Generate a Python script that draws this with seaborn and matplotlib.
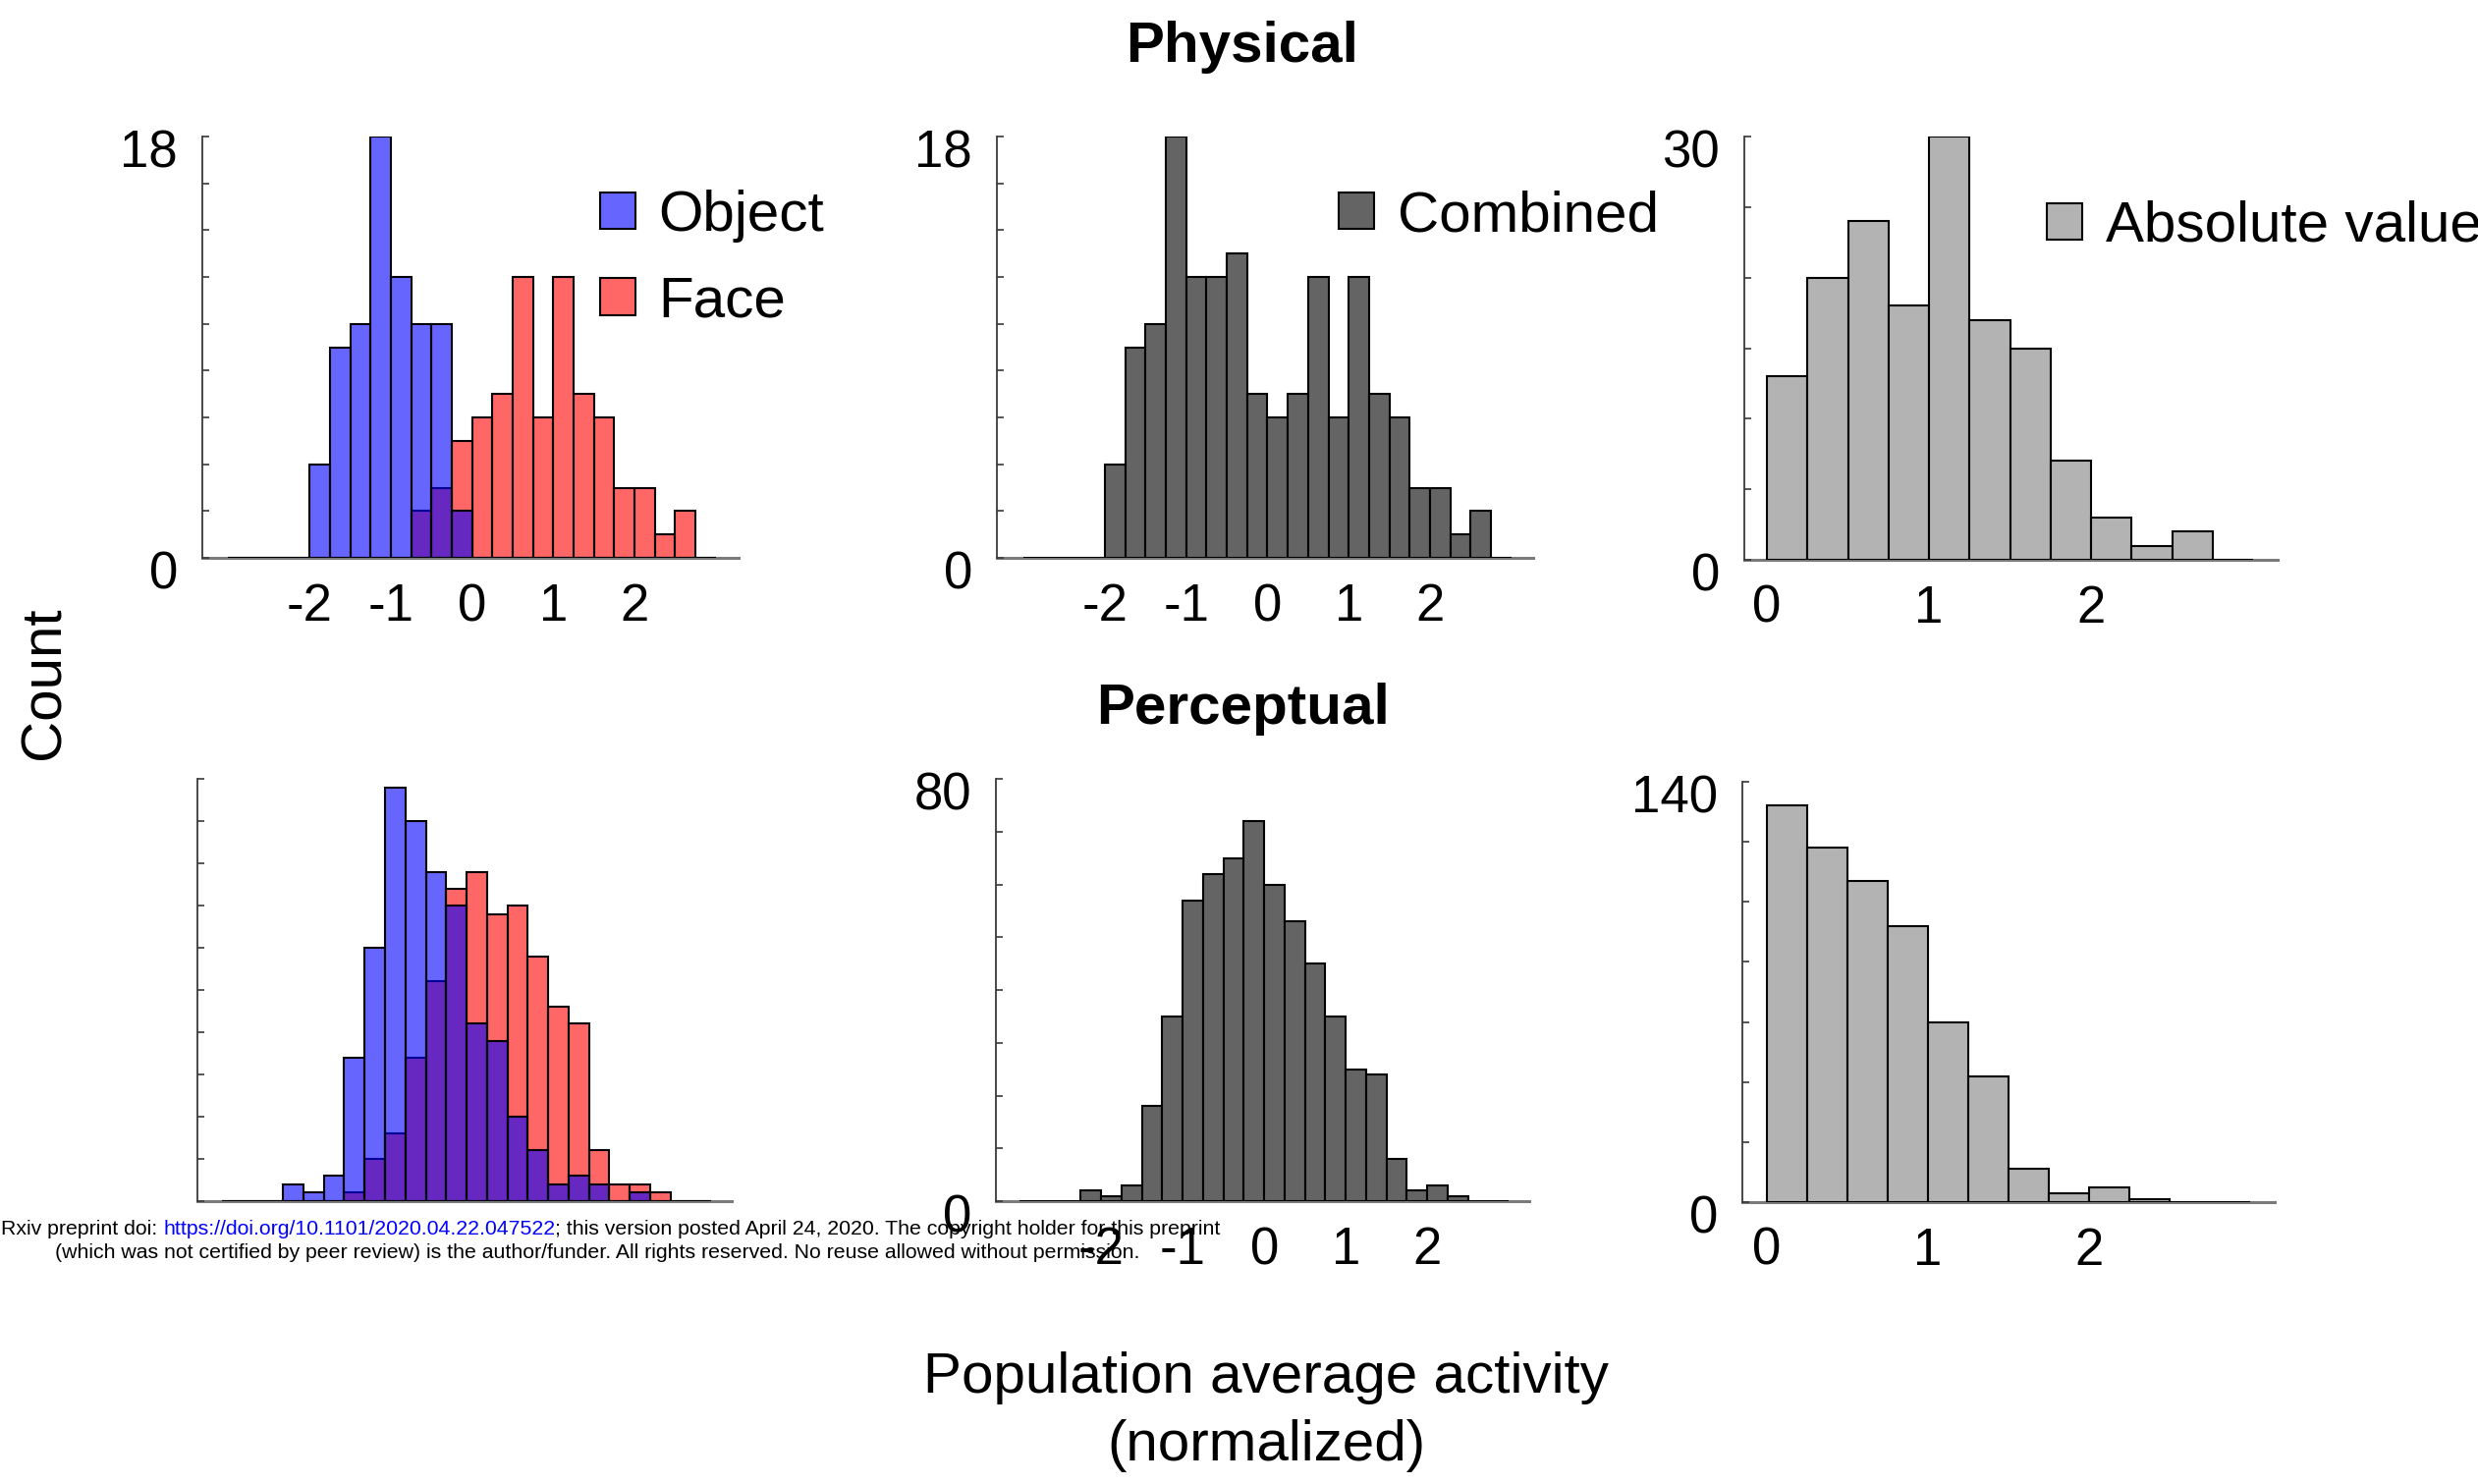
import numpy as np
import pandas as pd
import matplotlib
matplotlib.use("Agg")
import matplotlib.pyplot as plt
import seaborn as sns
from matplotlib.transforms import ScaledTranslation
from matplotlib.ticker import FixedLocator, FixedFormatter

# ---------------- data (counts per bin) ----------------
signed_bin_start = -3.0
abs_bin_start = 0.0
bin_width = 0.25

phys_object   = [0, 0, 0, 0, 4, 9, 10, 18, 12, 10, 10, 2, 0, 0, 0, 0, 0, 0, 0, 0, 0, 0, 0, 0]
phys_face     = [0, 0, 0, 0, 0, 0, 0, 0, 0, 2, 3, 5, 6, 7, 12, 6, 12, 7, 6, 3, 3, 1, 2, 0]
phys_combined = [0, 0, 0, 0, 4, 9, 10, 18, 12, 12, 13, 7, 6, 7, 12, 6, 12, 7, 6, 3, 3, 1, 2, 0]
phys_abs      = [13, 20, 24, 18, 30, 17, 15, 7, 3, 1, 2, 0]

perc_object   = [0, 0, 0, 2, 1, 3, 17, 30, 49, 45, 39, 35, 21, 19, 10, 6, 2, 3, 2, 0, 1, 0, 0, 0]
perc_face     = [0, 0, 0, 0, 0, 0, 1, 5, 8, 17, 26, 37, 39, 34, 35, 29, 23, 21, 6, 2, 2, 1, 0, 0]
perc_combined = [0, 0, 0, 2, 1, 3, 18, 35, 57, 62, 65, 72, 60, 53, 45, 35, 25, 24, 8, 2, 3, 1, 0, 0]
perc_abs      = [132, 118, 107, 92, 60, 42, 11, 3, 5, 1, 0, 0]

signed_ticks = [-2, -1, 0, 1, 2]
signed_ticklabels = ["-2", "-1", "0", "1", "2"]
abs_ticks = [0, 1, 2]
abs_ticklabels = ["0", "1", "2"]

legend_labels = ["Object", "Face", "Combined", "Absolute value"]
row_titles = ["Physical", "Perceptual"]

# ---------------- style ----------------
sns.set_style("white")
plt.rcParams['font.family'] = ['Liberation Sans', 'DejaVu Sans']
plt.rcParams['axes.unicode_minus'] = False
plt.rcParams['text.color'] = 'black'
plt.rcParams['xtick.color'] = 'black'
plt.rcParams['ytick.color'] = 'black'
plt.rcParams['xtick.labelcolor'] = 'black'
plt.rcParams['ytick.labelcolor'] = 'black'

W, H = 2523, 1511
DPI = 100
fig = plt.figure(figsize=(W / DPI, H / DPI), dpi=DPI)
fig.patch.set_facecolor("white")

C_OBJ = (0.0, 0.0, 1.0)
C_FACE = (1.0, 0.0, 0.0)
C_COMB = "#646464"
C_ABS = "#b3b3b3"
EDGE_LW = 1.5
TICK_FS = 38
LEG_FS = 42
BIG_FS = 42


def make_ax(left, right, top, bottom):
    return fig.add_axes([left / W, 1 - bottom / H, (right - left) / W, (bottom - top) / H])


def bin_frame(counts, start):
    n = len(counts)
    edges = [float(start + bin_width * i) for i in range(n + 1)]
    centers = [e + bin_width / 2 for e in edges[:-1]]
    return pd.DataFrame({"x": centers, "w": counts}), edges


def hist(ax, counts, start, color, alpha=1.0, label=None):
    df, edges = bin_frame(counts, start)
    sns.histplot(data=df, x="x", weights="w", bins=edges, ax=ax, color=color,
                 alpha=alpha, edgecolor="black", linewidth=EDGE_LW, label=label)


def style_ax(ax, xlim, ymax, ystep, ylabels, xticks, xticklabels):
    ax.set_xlim(*xlim)
    ax.set_ylim(0, ymax)
    for s in ["top", "right"]:
        ax.spines[s].set_visible(False)
    ax.spines["left"].set_color("#3a3a3a")
    ax.spines["left"].set_linewidth(1.3)
    ax.spines["bottom"].set_color("#7a7a7a")
    ax.spines["bottom"].set_linewidth(2.2)
    ax.spines["bottom"].set_zorder(0.5)
    yt = list(np.arange(0, ymax + 0.001, ystep))
    ax.yaxis.set_major_locator(FixedLocator(yt))
    labs = [""] * len(yt)
    if ylabels:
        labs[0] = "0"
        labs[-1] = str(int(ymax))
    ax.yaxis.set_major_formatter(FixedFormatter(labs))
    ax.tick_params(axis="y", direction="in", length=5, width=1.2, color="#3a3a3a",
                   labelsize=TICK_FS, labelcolor="black", pad=18, left=True)
    ax.xaxis.set_major_locator(FixedLocator(xticks))
    ax.xaxis.set_major_formatter(FixedFormatter(xticklabels))
    ax.tick_params(axis="x", length=0, labelsize=TICK_FS, labelcolor="black", pad=18,
                   bottom=True)
    for lab in ax.get_yticklabels():
        lab.set_transform(lab.get_transform() + ScaledTranslation(0, -12 / DPI, fig.dpi_scale_trans))
    ax.set_xlabel("")
    ax.set_ylabel("")
    ax.set_facecolor("white")


def add_legend(ax, handles, labels, x_px, y_px, spacing=0.58):
    leg = ax.legend(handles, labels, loc="upper left",
                    bbox_to_anchor=(x_px / W, 1 - y_px / H), bbox_transform=fig.transFigure,
                    frameon=False, fontsize=LEG_FS, handlelength=0.62, handleheight=0.62,
                    handletextpad=0.4, borderpad=0, borderaxespad=0, labelspacing=spacing,
                    labelcolor="black")
    return leg


# ---------------- top row: Physical ----------------
ax1 = make_ax(206, 752, 139, 568)
hist(ax1, phys_face, signed_bin_start, C_FACE, alpha=0.6)
hist(ax1, phys_object, signed_bin_start, C_OBJ, alpha=0.6)
style_ax(ax1, (-3.32, 3.28), 18, 2, True, signed_ticks, signed_ticklabels)
add_legend(ax1, [ax1.containers[1], ax1.containers[0]], legend_labels[0:2], 611, 193)

ax2 = make_ax(1015, 1561, 139, 568)
hist(ax2, phys_combined, signed_bin_start, C_COMB)
style_ax(ax2, (-3.33, 3.27), 18, 2, True, signed_ticks, signed_ticklabels)
add_legend(ax2, [ax2.containers[0]], [legend_labels[2]], 1363, 193)

ax3 = make_ax(1776, 2319, 139, 570)
hist(ax3, phys_abs, abs_bin_start, C_ABS)
style_ax(ax3, (-0.14, 3.15), 30, 5, True, abs_ticks, abs_ticklabels)
add_legend(ax3, [ax3.containers[0]], [legend_labels[3]], 2084, 204)

# ---------------- bottom row: Perceptual ----------------
ax4 = make_ax(201, 745, 793, 1223)
hist(ax4, perc_face, signed_bin_start, C_FACE, alpha=0.6)
hist(ax4, perc_object, signed_bin_start, C_OBJ, alpha=0.6)
style_ax(ax4, (-3.30, 3.25), 50, 5, False, [], [])

ax5 = make_ax(1014, 1557, 793, 1223)
hist(ax5, perc_combined, signed_bin_start, C_COMB)
style_ax(ax5, (-3.29, 3.25), 80, 10, True, signed_ticks, signed_ticklabels)

ax6 = make_ax(1774, 2316, 796, 1224)
hist(ax6, perc_abs, abs_bin_start, C_ABS)
style_ax(ax6, (-0.15, 3.15), 140, 20, True, abs_ticks, abs_ticklabels)

# ---------------- figure texts ----------------
fig.text(1265 / W, 1 - 48 / H, row_titles[0], ha="center", va="center",
         fontsize=BIG_FS, fontweight="bold", color="black")
fig.text(1265 / W, 1 - 722 / H, row_titles[1], ha="center", va="center",
         fontsize=BIG_FS, fontweight="bold", color="black")
fig.text(45 / W, 1 - 695 / H, "Count", rotation=90, ha="center", va="center",
         fontsize=BIG_FS, color="black")
fig.text(1289 / W, 1 - 1403 / H, "Population average activity", ha="center", va="center",
         fontsize=BIG_FS, color="black")
fig.text(1289 / W, 1 - 1472 / H, "(normalized)", ha="center", va="center",
         fontsize=BIG_FS, color="black")

# preprint watermark
wm_family = ["Liberation Sans Narrow", "Liberation Sans", "DejaVu Sans"]
WM_FS = 15.3
t1 = fig.text(1 / W, 1 - 1257 / H, "Rxiv preprint doi: ", ha="left", va="baseline",
              fontsize=WM_FS, family=wm_family, zorder=10, color="black")
t2 = ax1.annotate("https://doi.org/10.1101/2020.04.22.047522", xy=(1, 0), xycoords=t1,
                  ha="left", va="bottom", fontsize=WM_FS, color="blue", family=wm_family,
                  annotation_clip=False, zorder=10)
t3 = ax1.annotate("; this version posted April 24, 2020. The copyright holder for this preprint",
                  xy=(1, 0), xycoords=t2, ha="left", va="bottom", fontsize=WM_FS,
                  family=wm_family, annotation_clip=False, zorder=10, color="black")
fig.text(608 / W, 1 - 1281 / H,
         "(which was not certified by peer review) is the author/funder. All rights reserved. "
         "No reuse allowed without permission.",
         ha="center", va="baseline", fontsize=WM_FS, family=wm_family, zorder=10,
         color="black")

fig.savefig("out.png", dpi=DPI, facecolor="white")
